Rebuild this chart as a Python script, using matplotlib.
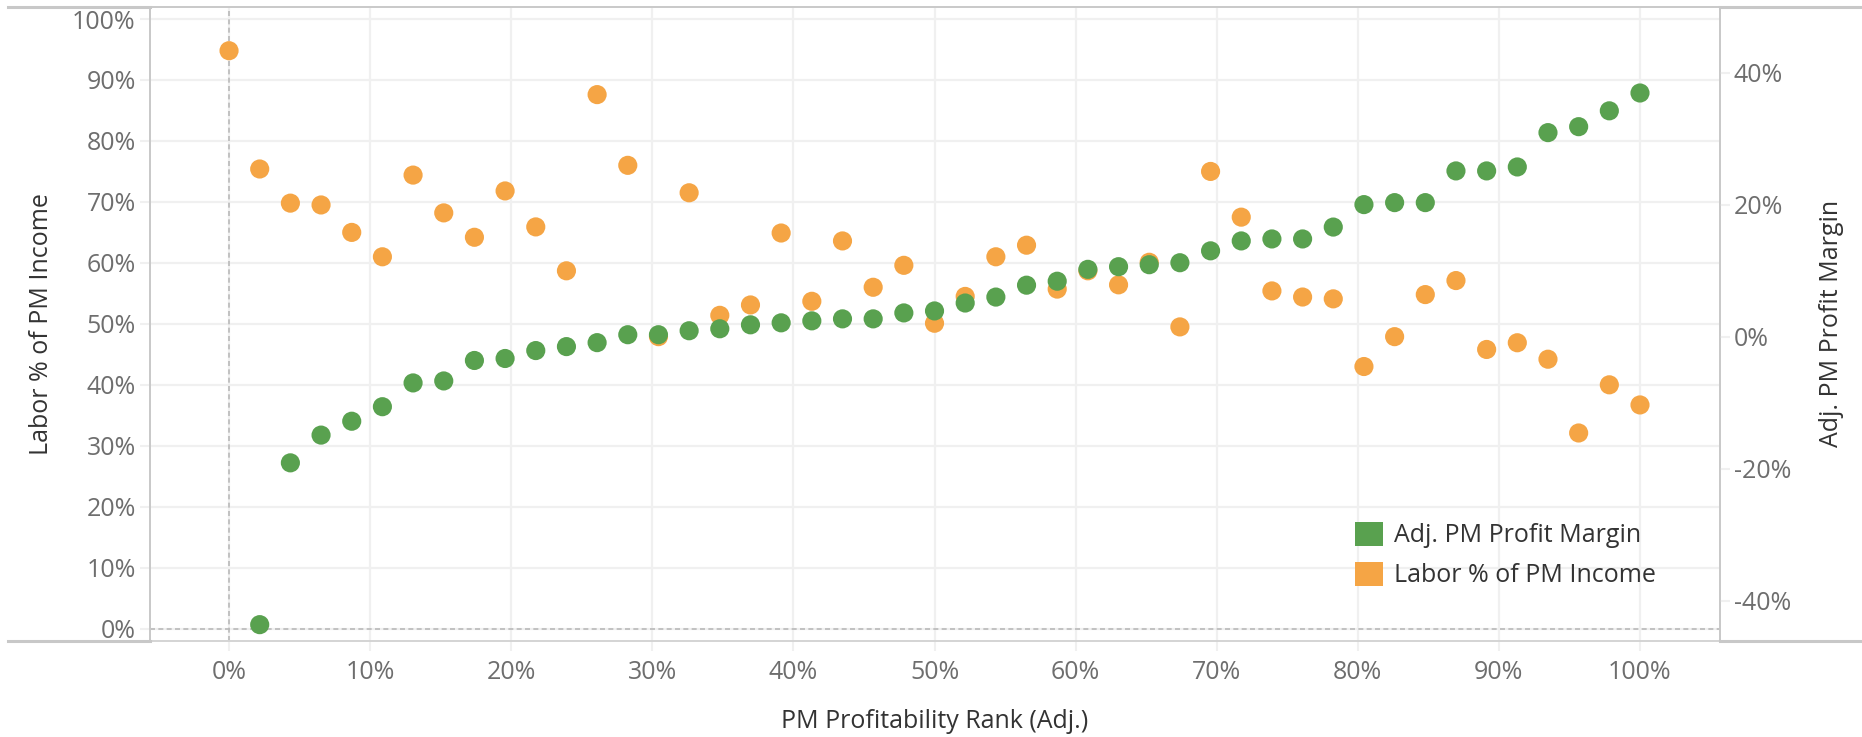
import matplotlib.pyplot as plt
from matplotlib.lines import Line2D
from matplotlib.patches import Patch
from matplotlib.ticker import FuncFormatter, MultipleLocator

plt.rcParams["font.family"] = ["Open Sans", "DejaVu Sans"]

# percentile rank of each PM (0..46 of 46)
rank = [i / 46 * 100 for i in range(47)]

# Labor % of PM Income (left axis)
labor_pct = [
    94.8, 75.4, 69.8, 69.5, 65.0, 61.0, 74.4, 68.2, 64.2, 71.8,
    65.9, 58.7, 87.6, 76.0, 47.9, 71.5, 51.4, 53.1, 64.9, 53.7,
    63.6, 56.0, 59.6, 50.1, 54.5, 61.0, 62.9, 55.7, 58.7, 56.4,
    60.1, 49.5, 75.0, 67.5, 55.4, 54.4, 54.1, 43.0, 47.9, 54.8,
    57.1, 45.8, 46.9, 44.2, 32.1, 40.0, 36.7,
]

# Adj. PM Profit Margin (right axis), no value for the first rank
profit_margin = [
    None, -43.6, -19.1, -14.9, -12.8, -10.6, -7.0, -6.7, -3.6, -3.3,
    -2.1, -1.5, -0.9, 0.3, 0.3, 0.9, 1.2, 1.8, 2.1, 2.4,
    2.7, 2.7, 3.6, 3.9, 5.1, 6.0, 7.8, 8.4, 10.2, 10.6,
    10.9, 11.2, 13.0, 14.5, 14.8, 14.8, 16.6, 20.0, 20.3, 20.3,
    25.1, 25.1, 25.7, 30.9, 31.8, 34.2, 36.9,
]

GREEN = "#59a14f"
ORANGE = "#f5a545"
TICK_GREY = "#6e6e6e"
TITLE_GREY = "#333333"
LINE_GREY = "#c8c8c8"
GRID = "#f0f0f0"

W, H = 1862, 737
fig = plt.figure(figsize=(W / 100, H / 100), dpi=100)
left_px, right_px, top_px, bottom_px = 149.6, 1720.0, 7.0, 640.7
ax = fig.add_axes([left_px / W, 1 - bottom_px / H,
                   (right_px - left_px) / W, (bottom_px - top_px) / H])
ax2 = ax.twinx()

ax.set_xlim(-5.63, 105.67)
ax.set_ylim(-1.97, 101.97)
ax2.set_ylim(-46.03, 49.92)

pct = FuncFormatter(lambda v, p: f"{v:.0f}%")
ax.xaxis.set_major_locator(MultipleLocator(10))
ax.yaxis.set_major_locator(MultipleLocator(10))
ax2.yaxis.set_major_locator(MultipleLocator(20))
for a in (ax.xaxis, ax.yaxis, ax2.yaxis):
    a.set_major_formatter(pct)

ax.grid(True, color=GRID, linewidth=1.6, zorder=0)
ax.set_axisbelow(True)
ax.axvline(0, color="#b9b9b9", linewidth=1.2, linestyle=(0, (3, 2)), zorder=1)
ax.axhline(0, color="#b9b9b9", linewidth=1.2, linestyle=(0, (3, 2)), zorder=1)

# orange series on the left axis
ax.scatter(rank, labor_pct, s=190, color=ORANGE, edgecolors="none", zorder=3)

# green series on the right axis (drawn on top)
gx = [r for r, v in zip(rank, profit_margin) if v is not None]
gy = [v for v in profit_margin if v is not None]
ax2.scatter(gx, gy, s=190, color=GREEN, edgecolors="none", zorder=3)

for a in (ax, ax2):
    for side in ("top", "bottom"):
        a.spines[side].set_color("#d4d4d4")
        a.spines[side].set_linewidth(1.2)
    a.spines["left"].set_color(LINE_GREY)
    a.spines["right"].set_color(LINE_GREY)
    a.spines["left"].set_linewidth(1.2)
    a.spines["right"].set_linewidth(1.2)

ax.tick_params(axis="both", length=7, width=1.5, color=GRID,
               labelsize=18, labelcolor=TICK_GREY)
ax.tick_params(axis="y", pad=3)
ax.tick_params(axis="x", pad=7)
ax2.tick_params(axis="y", length=7, width=1.5, color=GRID, pad=3,
                labelsize=18, labelcolor=TICK_GREY)

# axis titles
fig.text(935 / W, 1 - 721.7 / H, "PM Profitability Rank (Adj.)",
         ha="center", va="center", fontsize=18, color=TITLE_GREY)
fig.text(41.7 / W, 1 - 323.8 / H, "Labor % of PM Income", rotation=90,
         ha="center", va="center", fontsize=18, color=TITLE_GREY)
fig.text(1831 / W, 1 - 323.8 / H, "Adj. PM Profit Margin", rotation=90,
         ha="center", va="center", fontsize=18, color=TITLE_GREY)

# pane borders outside the plot
for (x0, x1, y, lw) in [(8, 149.6, top_px, 2.2), (149.6, 1720, top_px, 1.2),
                        (1720, W, top_px, 2.2), (8, 149.6, bottom_px, 2.2),
                        (1720, W, bottom_px, 2.2)]:
    fig.add_artist(Line2D([x0 / W, x1 / W], [1 - y / H, 1 - y / H],
                          color=LINE_GREY, linewidth=lw))

handles = [Patch(facecolor=GREEN, edgecolor="none", label="Adj. PM Profit Margin"),
           Patch(facecolor=ORANGE, edgecolor="none", label="Labor % of PM Income")]
leg = ax2.legend(handles=handles, loc="upper left",
                 bbox_to_anchor=((1355 - left_px) / (right_px - left_px),
                                 (bottom_px - 521.7) / (bottom_px - top_px)),
                 frameon=False, fontsize=18, handlelength=1.12, handleheight=1.12,
                 handletextpad=0.42, labelspacing=0.54, borderpad=0, borderaxespad=0)
for t in leg.get_texts():
    t.set_color(TITLE_GREY)

fig.savefig("out.png", dpi=100)
